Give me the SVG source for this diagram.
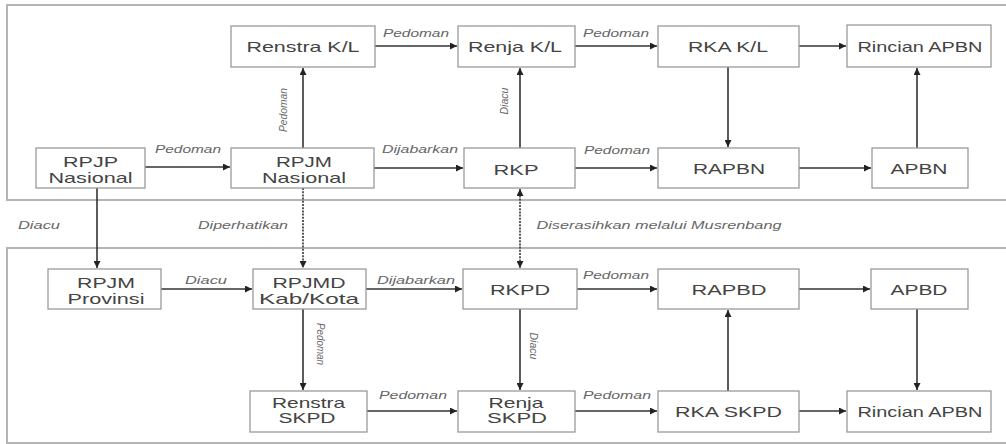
<svg xmlns="http://www.w3.org/2000/svg" width="1006" height="444" viewBox="0 0 1006 444">
<style>
.panel{fill:#fff;stroke:#b4b4b4;stroke-width:2}
.box{fill:#fff;stroke:#9a9a9a;stroke-width:1.3}
.nt{font-family:"Liberation Sans",Arial,sans-serif;font-size:14.5px;fill:#444;text-anchor:middle}
.lb{font-family:"Liberation Sans",Arial,sans-serif;font-size:10px;font-style:italic;fill:#666;text-anchor:middle}
.c{fill:none;stroke:#333;stroke-width:1.6}
.d{fill:none;stroke:#333;stroke-width:1.6;stroke-dasharray:2 1.2}
</style>
<defs>
<marker id="ah" viewBox="0 0 10 10" refX="10" refY="5" markerWidth="7" markerHeight="7" markerUnits="userSpaceOnUse" orient="auto-start-reverse"><path d="M0,0 L10,5 L0,10 z" fill="#222"/></marker>
</defs>
<rect width="1006" height="444" fill="#fff"/>
<rect class="panel" x="7" y="5" width="1000" height="195"/>
<rect class="panel" x="7" y="248" width="1000" height="195"/>

<g id="connectors">
<path class="c" d="M375,46 H457" marker-end="url(#ah)"/>
<path class="c" d="M575,46 H657" marker-end="url(#ah)"/>
<path class="c" d="M799,46 H846" marker-end="url(#ah)"/>
<path class="c" d="M728,67 V147" marker-end="url(#ah)"/>
<path class="c" d="M917,148 V68" marker-end="url(#ah)"/>
<path class="c" d="M799,168 H871" marker-end="url(#ah)"/>
<path class="c" d="M575,168 H657" marker-end="url(#ah)"/>
<path class="c" d="M374,168 H463" marker-end="url(#ah)"/>
<path class="c" d="M145,167 H230" marker-end="url(#ah)"/>
<path class="c" d="M303,148 V68" marker-end="url(#ah)"/>
<path class="c" d="M520,148 V68" marker-end="url(#ah)"/>
<path class="c" d="M97,188 V268" marker-end="url(#ah)"/>
<path class="d" d="M303,188 V268" marker-end="url(#ah)"/>
<path class="d" d="M520,189 V268" marker-start="url(#ah)" marker-end="url(#ah)"/>
<path class="c" d="M161,289 H252" marker-end="url(#ah)"/>
<path class="c" d="M366,289 H462" marker-end="url(#ah)"/>
<path class="c" d="M577,289 H657" marker-end="url(#ah)"/>
<path class="c" d="M799,289 H870" marker-end="url(#ah)"/>
<path class="c" d="M917,309 V390" marker-end="url(#ah)"/>
<path class="c" d="M728,391 V310" marker-end="url(#ah)"/>
<path class="c" d="M799,411 H846" marker-end="url(#ah)"/>
<path class="c" d="M575,411 H657" marker-end="url(#ah)"/>
<path class="c" d="M367,411 H457" marker-end="url(#ah)"/>
<path class="c" d="M303,309 V390" marker-end="url(#ah)"/>
<path class="c" d="M520,309 V390" marker-end="url(#ah)"/>

<text class="lb" x="416" y="37" textLength="66" lengthAdjust="spacingAndGlyphs">Pedoman</text>
<text class="lb" x="616" y="37" textLength="66" lengthAdjust="spacingAndGlyphs">Pedoman</text>
<text class="lb" x="188" y="153" textLength="66" lengthAdjust="spacingAndGlyphs">Pedoman</text>
<text class="lb" x="420" y="153" textLength="76" lengthAdjust="spacingAndGlyphs">Dijabarkan</text>
<text class="lb" x="617" y="154" textLength="66" lengthAdjust="spacingAndGlyphs">Pedoman</text>
<text class="lb" x="284" y="110" font-size="9" transform="rotate(-90 284 110)" dy="3" textLength="44" lengthAdjust="spacingAndGlyphs">Pedoman</text>
<text class="lb" x="505" y="101" font-size="9" transform="rotate(-90 505 101)" dy="3" textLength="27" lengthAdjust="spacingAndGlyphs">Diacu</text>
<text class="lb" x="39" y="229" textLength="42" lengthAdjust="spacingAndGlyphs">Diacu</text>
<text class="lb" x="243" y="229" textLength="90" lengthAdjust="spacingAndGlyphs">Diperhatikan</text>
<text class="lb" x="659" y="229" textLength="245" lengthAdjust="spacingAndGlyphs">Diserasihkan melalui Musrenbang</text>
<text class="lb" x="206" y="284" textLength="42" lengthAdjust="spacingAndGlyphs">Diacu</text>
<text class="lb" x="416" y="284" textLength="78" lengthAdjust="spacingAndGlyphs">Dijabarkan</text>
<text class="lb" x="616" y="279" textLength="66" lengthAdjust="spacingAndGlyphs">Pedoman</text>
<text class="lb" x="320" y="344" font-size="9" transform="rotate(90 320 344)" dy="3" textLength="42" lengthAdjust="spacingAndGlyphs">Pedoman</text>
<text class="lb" x="533" y="346" font-size="9" transform="rotate(90 533 346)" dy="3" textLength="27" lengthAdjust="spacingAndGlyphs">Diacu</text>
<text class="lb" x="413" y="399" textLength="68" lengthAdjust="spacingAndGlyphs">Pedoman</text>
<text class="lb" x="617" y="399" textLength="68" lengthAdjust="spacingAndGlyphs">Pedoman</text>
</g>

<g id="renstra-kl"><rect class="box" x="231" y="26" width="144" height="41"/><text class="nt" x="303" y="52" textLength="113" lengthAdjust="spacingAndGlyphs">Renstra K/L</text></g>
<g id="renja-kl"><rect class="box" x="458" y="26" width="117" height="41"/><text class="nt" x="515" y="52" textLength="94" lengthAdjust="spacingAndGlyphs">Renja K/L</text></g>
<g id="rka-kl"><rect class="box" x="658" y="26" width="141" height="41"/><text class="nt" x="728" y="52" textLength="80" lengthAdjust="spacingAndGlyphs">RKA K/L</text></g>
<g id="rincian-apbn-1"><rect class="box" x="847" y="25" width="144" height="42"/><text class="nt" x="920" y="52" textLength="125" lengthAdjust="spacingAndGlyphs">Rincian APBN</text></g>

<g id="rpjp-nasional"><rect class="box" x="36" y="148" width="109" height="40"/><text class="nt" x="90.5" y="167" textLength="55" lengthAdjust="spacingAndGlyphs">RPJP</text><text class="nt" x="90.5" y="183" textLength="84" lengthAdjust="spacingAndGlyphs">Nasional</text></g>
<g id="rpjm-nasional"><rect class="box" x="231" y="148" width="143" height="40"/><text class="nt" x="304" y="167" textLength="56" lengthAdjust="spacingAndGlyphs">RPJM</text><text class="nt" x="304" y="183" textLength="84" lengthAdjust="spacingAndGlyphs">Nasional</text></g>
<g id="rkp"><rect class="box" x="464" y="148" width="111" height="40"/><text class="nt" x="516" y="175" textLength="45" lengthAdjust="spacingAndGlyphs">RKP</text></g>
<g id="rapbn"><rect class="box" x="658" y="148" width="141" height="40"/><text class="nt" x="729" y="174" textLength="72" lengthAdjust="spacingAndGlyphs">RAPBN</text></g>
<g id="apbn"><rect class="box" x="872" y="148" width="96" height="40"/><text class="nt" x="919" y="174" textLength="57" lengthAdjust="spacingAndGlyphs">APBN</text></g>

<g id="rpjm-provinsi"><rect class="box" x="48" y="269" width="113" height="40"/><text class="nt" x="106" y="288" textLength="58" lengthAdjust="spacingAndGlyphs">RPJM</text><text class="nt" x="106" y="304" textLength="77" lengthAdjust="spacingAndGlyphs">Provinsi</text></g>
<g id="rpjmd"><rect class="box" x="253" y="269" width="113" height="40"/><text class="nt" x="309" y="288" textLength="73" lengthAdjust="spacingAndGlyphs">RPJMD</text><text class="nt" x="309" y="304" textLength="100" lengthAdjust="spacingAndGlyphs">Kab/Kota</text></g>
<g id="rkpd"><rect class="box" x="463" y="269" width="114" height="40"/><text class="nt" x="520" y="295" textLength="60" lengthAdjust="spacingAndGlyphs">RKPD</text></g>
<g id="rapbd"><rect class="box" x="658" y="269" width="141" height="40"/><text class="nt" x="729" y="295" textLength="75" lengthAdjust="spacingAndGlyphs">RAPBD</text></g>
<g id="apbd"><rect class="box" x="871" y="269" width="97" height="40"/><text class="nt" x="919" y="295" textLength="57" lengthAdjust="spacingAndGlyphs">APBD</text></g>

<g id="renstra-skpd"><rect class="box" x="250" y="391" width="117" height="41"/><text class="nt" x="308.5" y="408" textLength="73" lengthAdjust="spacingAndGlyphs">Renstra</text><text class="nt" x="307" y="423" textLength="57" lengthAdjust="spacingAndGlyphs">SKPD</text></g>
<g id="renja-skpd"><rect class="box" x="458" y="391" width="117" height="41"/><text class="nt" x="516" y="408" textLength="55" lengthAdjust="spacingAndGlyphs">Renja</text><text class="nt" x="517" y="423" textLength="60" lengthAdjust="spacingAndGlyphs">SKPD</text></g>
<g id="rka-skpd"><rect class="box" x="658" y="391" width="141" height="41"/><text class="nt" x="728.5" y="417" textLength="107" lengthAdjust="spacingAndGlyphs">RKA SKPD</text></g>
<g id="rincian-apbn-2"><rect class="box" x="847" y="391" width="144" height="41"/><text class="nt" x="920" y="417" textLength="125" lengthAdjust="spacingAndGlyphs">Rincian APBN</text></g>
</svg>
